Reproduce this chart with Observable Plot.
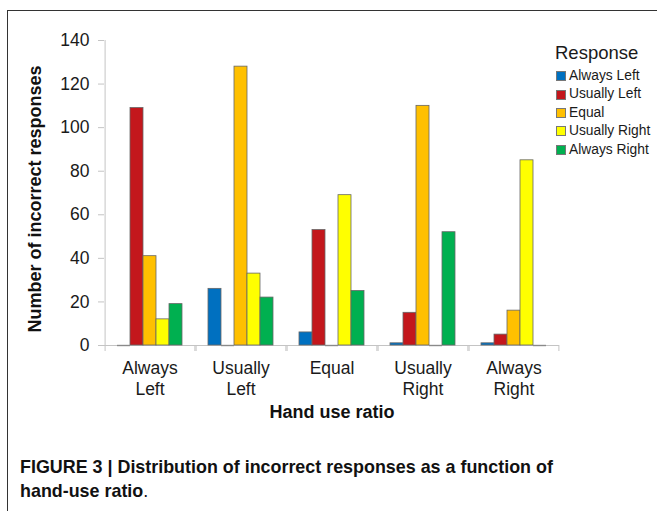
<!DOCTYPE html>
<html>
<head>
<meta charset="utf-8">
<script src="https://cdn.jsdelivr.net/npm/d3@7"></script>
<script src="https://cdn.jsdelivr.net/npm/@observablehq/plot@0.6"></script>
<style>
  html, body { margin: 0; padding: 0; background: #fff; }
  #page { position: relative; width: 657px; height: 511px; overflow: hidden; font-family: "Liberation Sans", Arial, sans-serif; color: #1a1a1a; }
  #border { position: absolute; left: 7px; top: 10px; right: -2px; bottom: -2px; border-left: 1px solid #333; border-top: 1px solid #333; }
  #chart { position: absolute; left: 0; top: 0; }
  #ytitle { position: absolute; left: 35px; top: 199px; width: 0; height: 0; }
  #ytitle span { position: absolute; left: 0; top: 0; transform: translate(-50%, -50%) rotate(-90deg); white-space: nowrap; font-weight: bold; font-size: 18px; color: #111; }
  #legend { position: absolute; left: 555px; top: 41px; }
  #legend .title { font-size: 18.5px; line-height: 24px; margin-bottom: 2px; }
  #legend .item { font-size: 13.8px; line-height: 18.4px; height: 18.4px; display: flex; align-items: center; }
  #legend .sw { width: 8px; height: 8px; border: 1px solid #777; margin-left: 1px; margin-right: 3px; }
  #caption { position: absolute; left: 20px; top: 455px; font-family: "Liberation Sans", Arial, sans-serif; font-weight: bold; font-size: 17.9px; line-height: 24px; color: #111; }
  #caption .dot { font-weight: normal; }
</style>
</head>
<body>
<div id="page">
  <div id="border"></div>
  <div id="chart"></div>
  <div id="ytitle"><span></span></div>
  <div id="legend"></div>
  <div id="caption">FIGURE 3 | Distribution of incorrect responses as a function of<br>hand-use ratio<span class="dot">.</span></div>
</div>
<script>
// ---- data ----
const hands = ["Always Left", "Usually Left", "Equal", "Usually Right", "Always Right"];
const responses = ["Always Left", "Usually Left", "Equal", "Usually Right", "Always Right"];
const colors = ["#0070C0", "#C3171C", "#FFC000", "#FFFF00", "#00B050"];
// values per response series, one entry per hand-use category
const alwaysLeft   = [0, 26, 6, 1, 1];
const usuallyLeft  = [109, 0, 53, 15, 5];
const equal        = [41, 128, 0, 110, 16];
const usuallyRight = [12, 33, 69, 0, 85];
const alwaysRight  = [19, 22, 25, 52, 0];
const yTicks = [0, 20, 40, 60, 80, 100, 120, 140];
const yTitle = "Number of incorrect responses";
const xTitle = "Hand use ratio";
const legendTitle = "Response";

const series = [alwaysLeft, usuallyLeft, equal, usuallyRight, alwaysRight];
const rows = [];
hands.forEach((h, i) => responses.forEach((r, j) => rows.push({hand: h, response: r, value: series[j][i]})));

const padOuter = 0.9;
const facetW = (657 - 102 - 96) / hands.length;
const step = facetW / (responses.length + 2 * padOuter);
const edgeOffset = padOuter * step + step / 2; // from first band center to facet edge

const axisGray = "#c4c4c4";
const textColor = "#1a1a1a";

const chart = Plot.plot({
  width: 657,
  height: 425,
  marginLeft: 102,
  marginRight: 96,
  marginTop: 40,
  marginBottom: 80,
  style: {fontFamily: "'Liberation Sans', Arial, sans-serif", color: textColor, background: "transparent", overflow: "visible"},
  fx: {domain: hands, padding: 0},
  x: {domain: responses, paddingInner: 0, paddingOuter: padOuter, axis: null},
  y: {domain: [0, 140], axis: null},
  color: {domain: responses, range: colors},
  marks: [
    // x axis line
    Plot.ruleY([0], {stroke: axisGray, strokeWidth: 1}),
    // y axis line (left edge of first facet)
    Plot.ruleX([{h: hands[0], r: responses[0]}], {fx: "h", x: "r", y1: 0, y2: 140, dx: -edgeOffset, stroke: axisGray}),
    // boundary ticks below x axis
    Plot.axisX([responses[0]], {anchor: "bottom", tickSize: 6, tickFormat: () => "", dx: -edgeOffset, stroke: axisGray, label: null}),
    Plot.axisX([responses[responses.length - 1]], {anchor: "bottom", tickSize: 6, tickFormat: () => "", dx: edgeOffset, stroke: axisGray, label: null}),
    // y axis ticks and labels
    Plot.axisY({ticks: yTicks, tickSize: 6, tickPadding: 9, fontSize: 17.5, stroke: axisGray, fill: textColor, label: null}),
    // category labels
    Plot.axisFx({anchor: "bottom", tickSize: 0, tickPadding: 14, fontSize: 17.5, lineHeight: 1.17, fill: textColor, label: null, tickFormat: d => d.replace(" ", "\n")}),
    // x axis title
    Plot.axisFx({anchor: "bottom", ticks: [], label: xTitle, labelOffset: 72, labelAnchor: "center", fontSize: 18, fontWeight: "bold", fill: "#111"}),
    // bars
    Plot.barY(rows.filter(d => d.value > 0), {fx: "hand", x: "response", y: "value", fill: "response", stroke: "#666", strokeWidth: 0.8, inset: 0}),
    // zero-valued bars drawn as flat outlines
    Plot.tickY(rows.filter(d => d.value === 0), {fx: "hand", x: "response", y: "value", stroke: "#8a8a8a", strokeWidth: 1.4})
  ]
});
document.getElementById("chart").appendChild(chart);
document.querySelector("#ytitle span").textContent = yTitle;

// legend
const legend = document.getElementById("legend");
const t = document.createElement("div");
t.className = "title";
t.textContent = legendTitle;
legend.appendChild(t);
responses.forEach((r, i) => {
  const it = document.createElement("div");
  it.className = "item";
  const sw = document.createElement("span");
  sw.className = "sw";
  sw.style.background = colors[i];
  it.appendChild(sw);
  const lb = document.createElement("span");
  lb.textContent = r;
  it.appendChild(lb);
  legend.appendChild(it);
});
</script>
</body>
</html>
